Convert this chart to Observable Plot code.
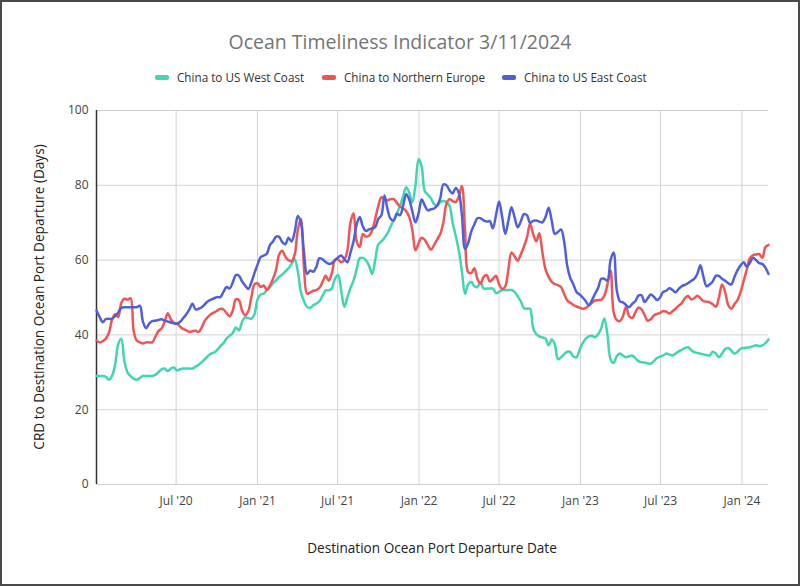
<!DOCTYPE html>
<html>
<head>
<meta charset="utf-8">
<script src="https://cdn.jsdelivr.net/npm/d3@7"></script>
<script src="https://cdn.jsdelivr.net/npm/@observablehq/plot@0.6"></script>
<style>
  html, body { margin: 0; padding: 0; background: #fff; }
  #wrap { position: relative; width: 800px; height: 586px; overflow: hidden; font-family: "Open Sans", sans-serif; }
  #wrap svg { position: absolute; left: 0; top: 0; }
  #border { position: absolute; left: 0; top: 0; width: 800px; height: 586px; box-sizing: border-box; border: 2px solid #4a4a4a; pointer-events: none; }
  #title { position: absolute; left: 0; width: 800px; top: 28px; text-align: center; font-size: 19.5px; color: #757575; }
  .leg { position: absolute; top: 69px; font-size: 11.7px; color: #333; white-space: nowrap; display: flex; align-items: center; }
  .sw { display: inline-block; width: 14px; height: 5px; border-radius: 2px; margin-right: 8px; }
  #ytitle { position: absolute; left: 38px; top: 297px; transform: translate(-50%, -50%) rotate(-90deg); font-size: 13.6px; color: #222; white-space: nowrap; }
  #xtitle { position: absolute; left: 0; width: 864px; top: 538px; text-align: center; font-size: 13.6px; color: #222; }
</style>
</head>
<body>
<div id="wrap">
  <div id="title">Ocean Timeliness Indicator 3/11/2024</div>
  <div id="legend"></div>
  <div id="ytitle">CRD to Destination Ocean Port Departure (Days)</div>
  <div id="xtitle">Destination Ocean Port Departure Date</div>
  <div id="border"></div>
</div>
<script>
// Series names and colours
const seriesNames = ["China to US West Coast", "China to Northern Europe", "China to US East Coast"];
const seriesColors = ["#40d6b1", "#f25454", "#4f5fdd"];

// Weekly observations, first week 2020-01-03
const firstWeek = "2020-01-03";

const westCoast = [
29,29,29,28.8,28,29,32,37.5,39,33,30,29,28.3,28,28.5,29,29,29,29,29.3,
30,30.8,31,30.3,31,31.3,30.5,30.8,31,31,31,31,31.5,32,32.8,33.5,34.4,35,35.3,36,
37,37.8,39,39.8,40.5,42,41.2,43.5,44.7,44.5,44.3,45.5,49.5,50.8,51,52,52.8,53.8,54.6,55.5,
56.2,57,57.8,59,60.2,57,51.5,49,47.5,47.2,47.9,48.4,49,50.5,51.9,51.9,52.5,55,56,52,
47.5,50,52.5,54.5,57.5,60.5,60.6,60,58.5,56.3,60,64.2,65,66,67.2,69,70.8,72.5,74.5,77,
79.5,78,75.5,80,87,85,78.5,77.5,76.5,75,74.5,75.5,75.8,75.5,74.5,70,66.5,62.5,57,51,
53.5,54.2,53,52.8,54,52.4,52.4,52.4,52.4,51.2,51.5,52,52,52,52,51.5,50.3,49,47.2,47,
47,41.8,40.2,39.6,39.3,39,37.2,38.8,37.5,33.5,34,34.8,35.5,35.4,34.2,34,36,37.8,39,39.6,
39.8,39.4,40.2,41.8,44.4,40,33.5,32.5,34.3,35,34.5,34,34.3,34.5,33.8,33,32.7,32.6,32.4,32.3,
33,33.8,34.2,34.5,35,34.8,34.5,35,35.6,36,36.5,36.7,36,35.4,35.2,35,34.8,34.6,34.5,35.5,
35,34,35,36.2,36.5,35.8,35,35.5,36.3,36.5,36.6,36.7,37,37.2,37,37.2,37.8,38.8
];

const northernEurope = [
38.5,38,38.3,39,40.5,44,45.5,44.8,48.5,49.7,49.4,49.8,41,38.5,38,37.7,38,38,38,39.5,
41,41.7,43.5,45.8,44.2,43.2,43,42.2,41.6,41.2,40.8,41,41.1,40.8,42,43.8,44.8,45.6,46,46.5,
47,46.8,45.8,45,46.5,49.5,49.3,46.5,45.2,46.3,50,53.5,53.8,52.8,53.2,52,53.2,55,57.5,61.5,
62.5,60.9,60,59.7,61.5,68,71,58,51,51.3,51.8,52,52.6,54.2,55.8,54.5,56.5,60,60.2,59.4,
60,62.5,70,72.5,65,63.5,67,66.3,66.5,67.9,71,74.5,76.8,76.2,76,76.3,76.3,75.3,74.3,73.8,
73.1,71.5,68,62.6,64.5,66,65.4,64,62.8,64,65.5,67,70,75,76.3,75.8,75.5,77,79.8,68,
56.8,56.5,57.8,55,53.7,55.5,56,54.3,55,55.8,53.5,52.3,53,57.5,62,61,59.8,61.5,63.5,66,
69.7,67,65,67.2,62,57.5,55.5,54.2,53.6,53.3,52.8,51,49.2,48.6,48,47.6,47.3,47,47.2,47.9,
48.6,49.2,49.3,49.4,50.5,53.5,57.2,46,44,43.7,45,47.5,45,44.5,46,47.3,46.8,45.3,43.8,44.2,
45.2,45.6,45.9,46.4,46.2,45.7,46.3,47,47.8,48.5,49.8,50.4,49.5,49.8,50.5,49.8,49,48.9,48.7,48.2,
47.5,50,53.5,51.5,48,47,48.2,49.3,51.5,54.5,57.5,60.5,61.3,61.5,61.6,60.6,63.5,64.1
];

const eastCoast = [
46.5,44.8,43.4,44.2,44.3,44.3,45,46,47.2,47.4,47.4,47.4,47.4,47.4,47.8,43.5,41.8,43,43.7,43.8,
44,44.2,43.8,43.6,43.3,43.1,43,43.5,44.5,45.5,46.8,48.3,46.8,47,47.4,48.2,49,49.4,49.8,50.1,
50.1,51.5,52.8,52.4,54,56,55.8,54.3,53.2,52.3,54,56.5,58.8,60.8,61.2,61.7,64,65,66.3,66.2,
64.8,64.2,66,65,67.5,71.8,70,62,56.3,57.2,56.9,58.2,60.5,60.2,59.5,59,59.2,60,60.7,61.2,
60.3,59.4,62,65,69.5,71.5,69,67.8,68.2,68.5,68.8,71,72,77.3,73.5,71,70.6,72.4,72,74.5,
77.6,76.2,73,70.1,72.5,76.2,74.6,73.3,73.6,73.8,74.6,76.5,80.2,80,78.7,77.8,79.3,78,72,63,
64.5,67.6,69.5,71.2,71.2,70.6,70.3,70.4,68.5,72,75.7,71.5,67,70.5,74.1,71.5,68.8,70.3,72.3,72,
70,70.5,70.6,70.3,70.1,71.5,74,70.5,67,67.5,68.2,65,58.5,55.2,53.5,51.5,50.8,50,49,47.9,
49.3,51,52.6,55,55,54.5,60,62,52,49,48.7,48,47.4,48.3,49,50.5,50.6,48.8,49.8,50.8,
50.2,49.3,50,51.5,51.8,52.5,52,51.4,52.3,53,53.4,53.8,54.4,55,56.3,58.6,55.5,53,53.5,54.3,
55.8,55.8,55,54.5,53.8,53.5,55.5,57.3,58.6,59.4,58.2,59.3,60.6,60,59.2,59,58,56.3
];

// Axis ticks
const yTicks = [0, 20, 40, 60, 80, 100];
const xTickDates = ["2020-07-01", "2021-01-01", "2021-07-01", "2022-01-01", "2022-07-01", "2023-01-01", "2023-07-01", "2024-01-01"];

// Build long table
const start = new Date(firstWeek + "T00:00:00Z");
const seriesValues = [westCoast, northernEurope, eastCoast];
const data = [];
seriesValues.forEach((vals, s) => {
  vals.forEach((v, i) => data.push({date: d3.utcDay.offset(start, 7 * i), value: v, series: seriesNames[s]}));
});
const xTicks = xTickDates.map(d => new Date(d + "T00:00:00Z"));

const chart = Plot.plot({
  width: 800,
  height: 586,
  marginLeft: 96,
  marginRight: 32,
  marginTop: 110,
  marginBottom: 102,
  style: {fontFamily: "'Open Sans', sans-serif", fontSize: "12px", color: "#444", background: "transparent", overflow: "visible"},
  x: {type: "utc", ticks: xTicks, tickFormat: d3.utcFormat("%b '%y"), tickSize: 0, tickPadding: 12, label: null},
  y: {domain: [0, 100], ticks: yTicks, tickSize: 0, tickPadding: 8, label: null},
  color: {domain: seriesNames, range: seriesColors},
  marks: [
    Plot.ruleY(yTicks, {stroke: "#d2d2d2", strokeWidth: 1}),
    Plot.ruleX(xTicks, {stroke: "#d2d2d2", strokeWidth: 1}),
    Plot.ruleX([start], {stroke: "#333", strokeWidth: 1.5}),
    Plot.lineY(data, {x: "date", y: "value", z: "series", stroke: "series", curve: "catmull-rom", strokeWidth: 2.5})
  ]
});
document.getElementById("wrap").insertBefore(chart, document.getElementById("title"));

// Legend
const legendLeft = [155, 322, 502];
const legend = document.getElementById("legend");
seriesNames.forEach((name, i) => {
  const item = document.createElement("div");
  item.className = "leg";
  item.style.left = legendLeft[i] + "px";
  item.innerHTML = `<span class="sw" style="background:${seriesColors[i]}"></span>${name}`;
  legend.appendChild(item);
});
</script>
</body>
</html>
